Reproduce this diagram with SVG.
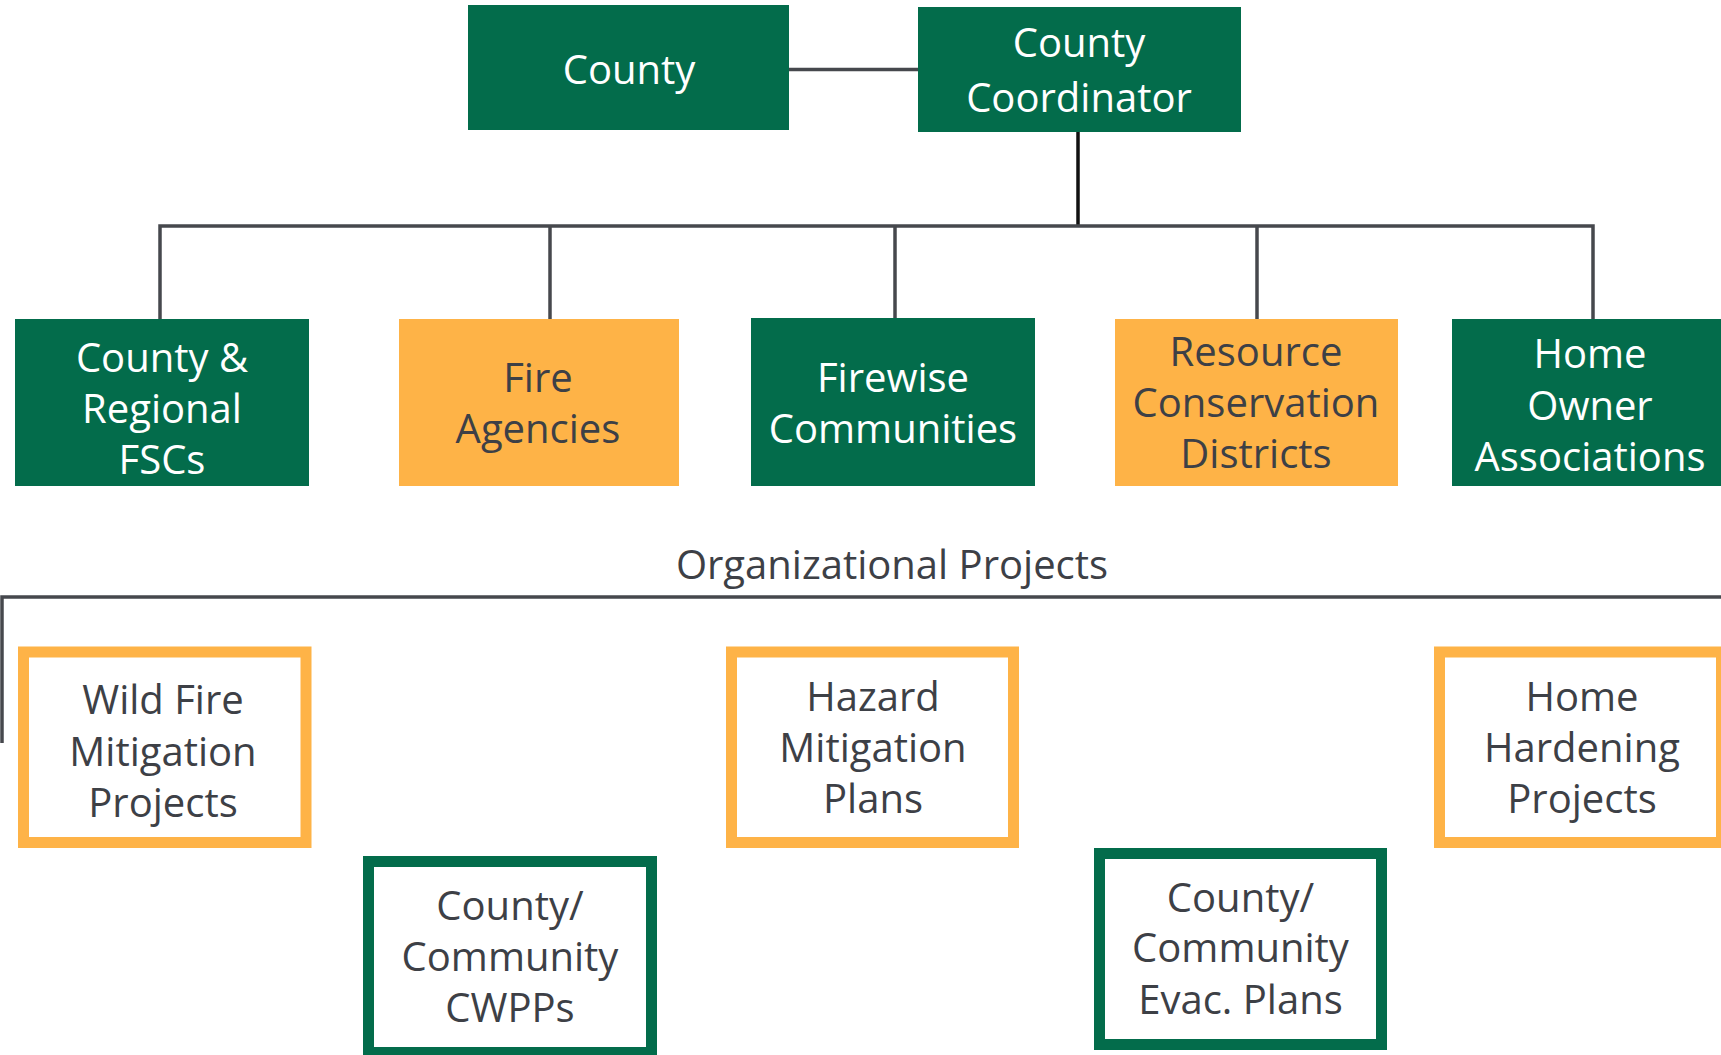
<svg xmlns="http://www.w3.org/2000/svg" width="1721" height="1055" viewBox="0 0 1721 1055">
<style>
.g{fill:#036c4b}
.o{fill:#feb347}
.go{fill:#ffffff;stroke:#036c4b;stroke-width:11}
.oo{fill:#ffffff;stroke:#feb347;stroke-width:11}
text{font-family:"Open Sans","Noto Sans","Liberation Sans",sans-serif;font-size:40px;text-anchor:middle}
.w{fill:#ffffff}
.d{fill:#3d4046}
.ln{stroke:#46484d;stroke-width:3.5;fill:none}
.lk{stroke:#111111;stroke-width:3.5;fill:none}
</style>
<rect width="1721" height="1055" fill="#ffffff"/>
<g id="connectors">
<line class="ln" x1="789" y1="69.5" x2="918" y2="69.5"/>
<line class="lk" x1="1078" y1="132" x2="1078" y2="226"/>
<polyline class="ln" points="160,319 160,226 1593,226 1593,319"/>
<line class="ln" x1="550" y1="226" x2="550" y2="319"/>
<line class="ln" x1="895" y1="226" x2="895" y2="318"/>
<line class="ln" x1="1257" y1="226" x2="1257" y2="319"/>
<polyline class="ln" points="2,743 2,597 1721,597"/>
</g>
<g id="county">
<rect class="g" x="468" y="5" width="321" height="125"/>
<text class="w" x="629" y="84" font-size="41">County</text>
</g>
<g id="county-coordinator">
<rect class="g" x="918" y="7" width="323" height="125"/>
<text class="w" x="1079" y="56.5" font-size="41">County</text>
<text class="w" x="1079" y="111.5" font-size="41">Coordinator</text>
</g>
<g id="county-regional-fscs">
<rect class="g" x="15" y="319" width="294" height="167"/>
<text class="w" x="162" y="371.5">County &amp;</text>
<text class="w" x="162" y="423">Regional</text>
<text class="w" x="162" y="474">FSCs</text>
</g>
<g id="fire-agencies">
<rect class="o" x="399" y="319" width="280" height="167"/>
<text class="d" x="538" y="392">Fire</text>
<text class="d" x="538" y="443">Agencies</text>
</g>
<g id="firewise-communities">
<rect class="g" x="751" y="318" width="284" height="168"/>
<text class="w" x="893" y="392">Firewise</text>
<text class="w" x="893" y="443">Communities</text>
</g>
<g id="resource-conservation-districts">
<rect class="o" x="1115" y="319" width="283" height="167"/>
<text class="d" x="1256" y="365.5">Resource</text>
<text class="d" x="1256" y="416.5">Conservation</text>
<text class="d" x="1256" y="468">Districts</text>
</g>
<g id="home-owner-associations">
<rect class="g" x="1452" y="319" width="275" height="167"/>
<text class="w" x="1590" y="368">Home</text>
<text class="w" x="1590" y="419.5">Owner</text>
<text class="w" x="1590" y="470.5">Associations</text>
</g>
<g id="organizational-projects">
<text class="d" x="892" y="579">Organizational Projects</text>
</g>
<g id="wild-fire-mitigation-projects">
<rect class="oo" x="23.5" y="652" width="282.5" height="190.5"/>
<text class="d" x="163" y="714">Wild Fire</text>
<text class="d" x="163" y="765.5">Mitigation</text>
<text class="d" x="163" y="817">Projects</text>
</g>
<g id="hazard-mitigation-plans">
<rect class="oo" x="731.5" y="652" width="282" height="190.5"/>
<text class="d" x="873" y="711">Hazard</text>
<text class="d" x="873" y="762">Mitigation</text>
<text class="d" x="873" y="813">Plans</text>
</g>
<g id="home-hardening-projects">
<rect class="oo" x="1439.5" y="652" width="282" height="190.5"/>
<text class="d" x="1582" y="711">Home</text>
<text class="d" x="1582" y="762">Hardening</text>
<text class="d" x="1582" y="813">Projects</text>
</g>
<g id="county-community-cwpps">
<rect class="go" x="368.5" y="861.5" width="283" height="191"/>
<text class="d" x="510" y="920">County/</text>
<text class="d" x="510" y="970.5">Community</text>
<text class="d" x="510" y="1022">CWPPs</text>
</g>
<g id="county-community-evac-plans">
<rect class="go" x="1099.5" y="853.5" width="282" height="191"/>
<text class="d" x="1240.5" y="912">County/</text>
<text class="d" x="1240.5" y="962">Community</text>
<text class="d" x="1240.5" y="1014">Evac. Plans</text>
</g>
</svg>
